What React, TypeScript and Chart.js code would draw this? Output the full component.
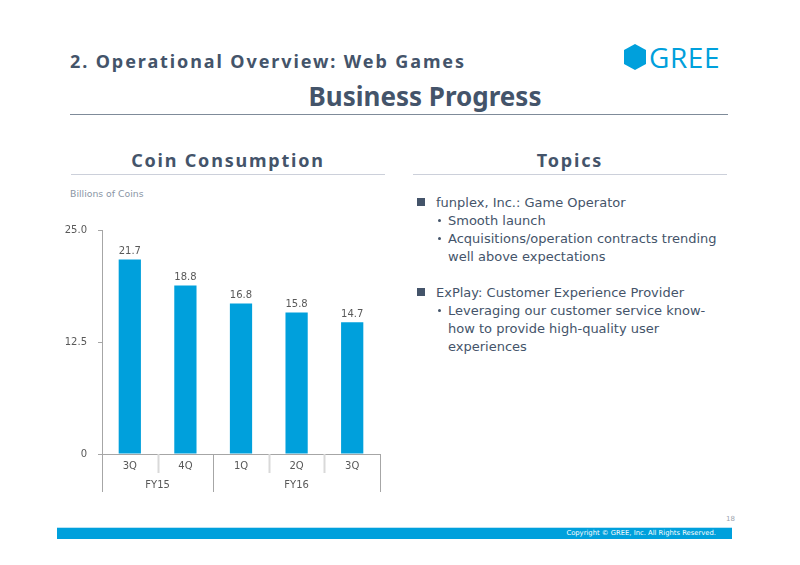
import React, { useEffect, useRef } from "react";
import { Chart, registerables } from "chart.js";

Chart.register(...registerables);

// Coin consumption by quarter (billions of coins)
const quarters = ["3Q", "4Q", "1Q", "2Q", "3Q"];
const fiscalYears = ["FY15", "FY15", "FY16", "FY16", "FY16"];
const coinValues = [21.7, 18.8, 16.8, 15.8, 14.7];
const yTicks = [0, 12.5, 25];

const topics = [
  { head: "funplex, Inc.: Game Operator", subs: [["Smooth launch"], ["Acquisitions/operation contracts trending", "well above expectations"]] },
  { head: "ExPlay: Customer Experience Provider", subs: [["Leveraging our customer service know-", "how to provide high-quality user", "experiences"]] },
];

const BLUE = "#00a0dc";
const SLATE = "#44546a";
const TICK_GRAY = "#595959";
const AXIS_GRAY = "#a6a6a6";
const LIGHT_GRAY = "#d9d9d9";
const SANS = "'DejaVu Sans', Verdana, sans-serif";
const HEAD = "'Noto Sans', 'DejaVu Sans', sans-serif";

// Category separators, fiscal-year group lines/labels and value labels
const groupAxisPlugin = {
  id: "groupAxis",
  afterDraw(chart: any) {
    const { ctx, chartArea, scales } = chart;
    const x = scales.x;
    const n = quarters.length;
    const bottom = chartArea.bottom;
    const boundary = (i: number) => {
      if (i === 0) return chartArea.left;
      if (i === n) return chartArea.right;
      return (x.getPixelForValue(i - 1) + x.getPixelForValue(i)) / 2;
    };
    ctx.save();
    for (let i = 0; i <= n; i++) {
      const isGroup = i === 0 || i === n || fiscalYears[i] !== fiscalYears[i - 1];
      const bx = Math.round(boundary(i)) + 0.5;
      ctx.beginPath();
      ctx.strokeStyle = isGroup ? AXIS_GRAY : LIGHT_GRAY;
      ctx.lineWidth = isGroup ? 1 : 2;
      ctx.moveTo(bx, bottom);
      ctx.lineTo(bx, bottom + (isGroup ? 38 : 19));
      ctx.stroke();
    }
    // group labels
    ctx.font = `10px ${SANS}`;
    ctx.fillStyle = TICK_GRAY;
    ctx.textAlign = "center";
    ctx.textBaseline = "middle";
    let start = 0;
    for (let i = 1; i <= n; i++) {
      if (i === n || fiscalYears[i] !== fiscalYears[start]) {
        const cx = (boundary(start) + boundary(i)) / 2;
        ctx.fillText(fiscalYears[start], cx, bottom + 31);
        start = i;
      }
    }
    ctx.restore();
  },
  afterDatasetsDraw(chart: any) {
    const { ctx } = chart;
    const meta = chart.getDatasetMeta(0);
    ctx.save();
    ctx.font = `10px ${SANS}`;
    ctx.fillStyle = TICK_GRAY;
    ctx.textAlign = "center";
    ctx.textBaseline = "bottom";
    meta.data.forEach((bar: any, i: number) => {
      ctx.fillText(coinValues[i].toFixed(1), bar.x, bar.y - 3);
    });
    ctx.restore();
  },
};

function CoinChart() {
  const ref = useRef<HTMLCanvasElement>(null);
  useEffect(() => {
    if (!ref.current) return;
    const chart = new Chart(ref.current, {
      type: "bar",
      data: {
        labels: quarters,
        datasets: [
          {
            data: coinValues,
            backgroundColor: BLUE,
            borderWidth: 0,
            barPercentage: 0.4,
            categoryPercentage: 1,
          },
        ],
      },
      options: {
        animation: false,
        responsive: true,
        maintainAspectRatio: false,
        layout: { padding: { top: 10, right: 15, bottom: 0, left: 0 } },
        plugins: { legend: { display: false }, tooltip: { enabled: false } },
        scales: {
          x: {
            grid: { display: false, drawTicks: false },
            border: { display: true, color: AXIS_GRAY, width: 1 },
            ticks: { color: TICK_GRAY, font: { family: SANS, size: 10 }, padding: 6, maxRotation: 0 },
            afterFit: (s: any) => { s.height = 52; },
          },
          y: {
            min: 0,
            max: 25,
            afterBuildTicks: (s: any) => { s.ticks = yTicks.map((v) => ({ value: v })); },
            grid: { display: true, drawOnChartArea: false, drawTicks: true, tickLength: 4, color: AXIS_GRAY },
            border: { display: true, color: AXIS_GRAY, width: 1 },
            ticks: {
              color: TICK_GRAY,
              font: { family: SANS, size: 10 },
              padding: 11,
              callback: (v: any) => (Number(v) === 0 ? "0" : Number(v).toFixed(1)),
            },
            afterFit: (s: any) => { s.width = 42; },
          },
        },
      },
      plugins: [groupAxisPlugin],
    });
    return () => chart.destroy();
  }, []);
  return (
    <div style={{ position: "absolute", left: 60, top: 213, width: 335, height: 293 }}>
      <canvas ref={ref} />
    </div>
  );
}

function Logo() {
  return (
    <div style={{ position: "absolute", left: 623, top: 44, height: 26, display: "flex", alignItems: "center" }}>
      <svg width="24" height="26" viewBox="0 0 24 26">
        <polygon points="12,0 23,6 23,20 12,26 1,20 1,6" fill={BLUE} />
      </svg>
      <span style={{ fontFamily: "'Open Sans', sans-serif", fontSize: 28, color: BLUE, marginLeft: 2, lineHeight: "26px", letterSpacing: 0.6 }}>
        GREE
      </span>
    </div>
  );
}

export default function App() {
  const abs = (l: number, t: number, extra: React.CSSProperties = {}): React.CSSProperties => ({
    position: "absolute",
    left: l,
    top: t,
    whiteSpace: "nowrap",
    lineHeight: 1,
    ...extra,
  });
  const bodyText: React.CSSProperties = { fontFamily: SANS, fontSize: 13, color: SLATE };
  let y = 196;
  const topicRows: React.ReactNode[] = [];
  topics.forEach((t, ti) => {
    topicRows.push(
      <div key={`sq${ti}`} style={{ position: "absolute", left: 417, top: y + 2, width: 8, height: 8, background: SLATE }} />
    );
    topicRows.push(<div key={`h${ti}`} style={abs(436, y, bodyText)}>{t.head}</div>);
    y += 18;
    t.subs.forEach((lines, si) => {
      topicRows.push(
        <div
          key={`d${ti}-${si}`}
          style={{ position: "absolute", left: 438, top: y + 5, width: 2.5, height: 2.5, borderRadius: 2, background: SLATE }}
        />
      );
      lines.forEach((ln, li) => {
        topicRows.push(<div key={`s${ti}-${si}-${li}`} style={abs(448, y, bodyText)}>{ln}</div>);
        y += 18;
      });
    });
    y += 18;
  });

  return (
    <div style={{ position: "absolute", left: 0, top: 0, width: 800, height: 565, background: "#fff", overflow: "hidden" }}>
      <div style={abs(70, 52, { fontFamily: HEAD, fontWeight: 700, fontSize: 18, color: SLATE, letterSpacing: 1.9 })}>
        2. Operational Overview: Web Games
      </div>
      <Logo />
      <div style={abs(0, 83, { width: 850, textAlign: "center", fontFamily: HEAD, fontWeight: 700, fontSize: 26, color: SLATE })}>
        Business Progress
      </div>
      <div style={{ position: "absolute", left: 70, top: 114, width: 658, height: 1, background: "#7f8b99" }} />

      <div style={abs(71, 151, { width: 314, textAlign: "center", fontFamily: HEAD, fontWeight: 700, fontSize: 18, color: SLATE, letterSpacing: 1.8 })}>
        Coin Consumption
      </div>
      <div style={{ position: "absolute", left: 71, top: 174, width: 314, height: 1, background: "#ccd0da" }} />
      <div style={abs(413, 151, { width: 314, textAlign: "center", fontFamily: HEAD, fontWeight: 700, fontSize: 18, color: SLATE, letterSpacing: 1.8 })}>
        Topics
      </div>
      <div style={{ position: "absolute", left: 413, top: 174, width: 314, height: 1, background: "#ccd0da" }} />

      <div style={abs(70, 189, { fontFamily: SANS, fontSize: 9.3, color: "#8a95a5" })}>Billions of Coins</div>
      <CoinChart />

      {topicRows}

      <div style={abs(726, 516, { fontFamily: SANS, fontSize: 7, color: "#9aa3ad" })}>18</div>
      <div style={{ position: "absolute", left: 57, top: 527, width: 675, height: 1, background: "#b9e3f5" }} />
      <div style={{ position: "absolute", left: 57, top: 528, width: 675, height: 11, background: BLUE }} />
      <div style={abs(400, 530, { width: 316, textAlign: "right", fontFamily: SANS, fontSize: 6.8, color: "#fff" })}>
        Copyright © GREE, Inc. All Rights Reserved.
      </div>
    </div>
  );
}
